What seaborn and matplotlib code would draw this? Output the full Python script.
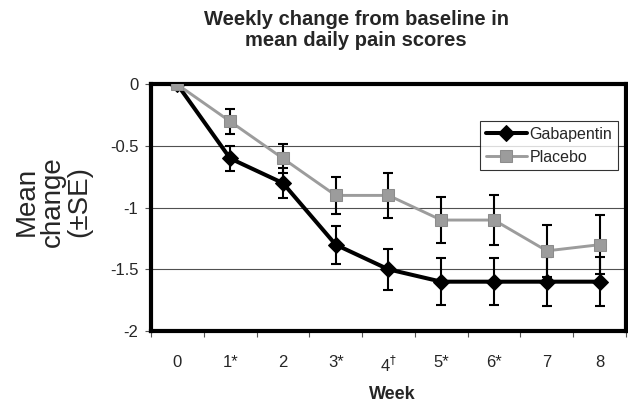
import numpy as np
import pandas as pd
import seaborn as sns
from matplotlib import pyplot as plt
from matplotlib.ticker import FixedLocator

weeks = [0, 1, 2, 3, 4, 5, 6, 7, 8]
week_labels = ["0", "1*", "2", "3*", "4$^{\\dagger}$", "5*", "6*", "7", "8"]
gabapentin = [0, -0.6, -0.8, -1.3, -1.5, -1.6, -1.6, -1.6, -1.6]
gabapentin_se = [0, 0.10, 0.12, 0.155, 0.165, 0.19, 0.19, 0.20, 0.20]
placebo = [0, -0.3, -0.6, -0.9, -0.9, -1.1, -1.1, -1.35, -1.3]
placebo_se = [0, 0.10, 0.12, 0.15, 0.18, 0.19, 0.20, 0.21, 0.24]

sns.set_style("white")
plt.rcParams["font.family"] = ["Liberation Sans", "DejaVu Sans"]

df = pd.DataFrame({"week": weeks, "gabapentin": gabapentin, "placebo": placebo})

fig = plt.figure(figsize=(6.28, 4.03), dpi=100)
ax = fig.add_axes([0.2404, 0.1787, 0.7564, 0.6117])

ax.yaxis.grid(True, color="#505050", linewidth=0.8)
ax.set_axisbelow(True)

# error bars first, lines and markers on top
for vals, se in [(gabapentin, gabapentin_se), (placebo, placebo_se)]:
    ax.errorbar(weeks[1:], vals[1:], yerr=se[1:], fmt="none", ecolor="black",
                elinewidth=1.5, capsize=3.8, capthick=1.5, zorder=2)

sns.lineplot(data=df, x="week", y="gabapentin", ax=ax, color="black", linewidth=2.9,
             marker="D", markersize=8.5, markeredgecolor="black", label="Gabapentin", zorder=3)
sns.lineplot(data=df, x="week", y="placebo", ax=ax, color="#9c9c9c", linewidth=2.1,
             marker="s", markersize=8, markeredgecolor="#8c8c8c", label="Placebo", zorder=4)

ax.set_xlim(-0.5, 8.5)
ax.set_ylim(-2, 0)
ax.set_xticks(weeks)
ax.set_xticklabels(week_labels)
ax.xaxis.set_minor_locator(FixedLocator(np.arange(-0.5, 9, 1)))
ax.tick_params(axis="x", which="major", length=0, pad=17, labelsize=12)
ax.tick_params(axis="x", which="minor", length=4, width=0.8, color="#555555", bottom=True)
ax.set_yticks([0, -0.5, -1, -1.5, -2])
ax.set_yticklabels(["0", "-0.5", "-1", "-1.5", "-2"])
ax.tick_params(axis="y", length=4, width=0.8, color="#555555", left=True, pad=5, labelsize=12)
ax.set_xlabel("")
ax.set_ylabel("")

for s in ax.spines.values():
    s.set_visible(True)
    s.set_color("black")
    s.set_linewidth(3)

leg = ax.legend(loc="upper right", bbox_to_anchor=(0.983, 0.852), borderaxespad=0,
                fontsize=11.5, frameon=True, fancybox=False, edgecolor="black",
                handlelength=2.6, handletextpad=0.15, borderpad=0.35, labelspacing=0.5)
leg.get_frame().set_linewidth(0.8)

fig.text(0.567, 0.975, "Weekly change from baseline in\nmean daily pain scores",
         ha="center", va="top", fontsize=14.5, fontweight="bold", linespacing=1.15)
fig.text(0.0844, 0.50, "Mean\nchange\n(\u00b1SE)", rotation=90, ha="center", va="center",
         multialignment="center", fontsize=20, linespacing=1.0)
fig.text(0.624, 0.02, "Week", ha="center", va="center", fontsize=13, fontweight="bold")

fig.savefig("out.png", dpi=100)
